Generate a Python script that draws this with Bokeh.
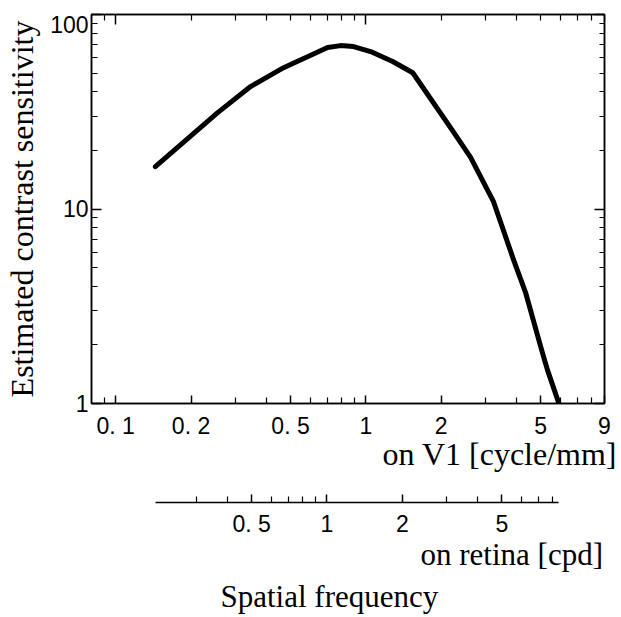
from bokeh.plotting import figure
from bokeh.models import LogAxis, FixedTicker, Range1d, LogScale, Title
from bokeh.embed import file_html
from bokeh.resources import INLINE

# ---- data ----
v1_freq = [0.144, 0.255, 0.346, 0.469, 0.703, 0.793, 0.893, 1.045, 1.28, 1.54,
           2.18, 2.62, 3.24, 3.90, 4.36, 5.09, 5.33, 5.90]
sensitivity = [16.5, 31.2, 42.6, 53.3, 67.6, 69.2, 68.4, 64.5, 57.3, 50.2,
               26.2, 18.5, 10.9, 5.46, 3.69, 1.81, 1.48, 1.01]

x_range_v1 = (0.08, 9.0)
y_range = (1.0, 100.0)
retina_per_v1 = 1.43  # cpd per cycle/mm

v1_major = [0.1, 0.2, 0.5, 1, 2, 5, 9]
v1_major_labels = ["0. 1", "0. 2", "0. 5", "1", "2", "5", "9"]
v1_minor = [0.09, 0.3, 0.4, 0.6, 0.7, 0.8, 0.9, 3, 4, 6, 7, 8]
top_major = [0.1, 1]
top_minor = [0.09, 0.2, 0.3, 0.4, 0.5, 0.6, 0.7, 0.8, 0.9, 2, 3, 4, 5, 6, 7, 8, 9]
retina_major = [0.5, 1, 2, 5]
retina_major_labels = ["0. 5", "1", "2", "5"]
retina_minor = [0.3, 0.4, 0.6, 0.7, 0.8, 0.9, 3, 4, 6, 7, 8]
y_major = [1, 10, 100]
y_major_labels = ["1", "10", "\n100"]
y_minor = [2, 3, 4, 5, 6, 7, 8, 9, 20, 30, 40, 50, 60, 70, 80, 90]

TICK_FONT = "Liberation Sans"
SERIF = "Liberation Serif"

p = figure(width=621, height=617, x_axis_type="log", y_axis_type="log",
           x_range=Range1d(*x_range_v1), y_range=Range1d(*y_range),
           output_backend="svg", toolbar_location=None,
           min_border_left=91, min_border_right=17, min_border_top=14,
           min_border_bottom=214)
p.title.visible = False
p.background_fill_color = "white"
p.border_fill_color = "white"
p.xgrid.visible = False
p.ygrid.visible = False
p.outline_line_color = "black"
p.outline_line_width = 1.5

p.extra_x_ranges = {"retina": Range1d(x_range_v1[0] * retina_per_v1,
                                      x_range_v1[1] * retina_per_v1)}
p.extra_x_scales = {"retina": LogScale()}

p.line(v1_freq, sensitivity, line_color="black", line_width=5,
       line_join="round", line_cap="round")


def style_axis(ax, font_size):
    ax.axis_line_color = "black"
    ax.axis_line_width = 1.5
    ax.major_tick_line_color = "black"
    ax.minor_tick_line_color = "black"
    ax.major_tick_line_width = 1.5
    ax.minor_tick_line_width = 1.2
    ax.major_tick_out = 0
    ax.minor_tick_out = 0
    ax.major_label_text_font = TICK_FONT
    ax.major_label_text_font_size = font_size
    ax.major_label_text_color = "black"


# main bottom axis (on V1)
xa = p.xaxis[0]
xa.ticker = FixedTicker(ticks=v1_major, minor_ticks=v1_minor)
xa.major_label_overrides = dict(zip(v1_major, v1_major_labels))
style_axis(xa, "23px")
xa.major_tick_in = 8
xa.minor_tick_in = 6
xa.major_label_standoff = 9

# left axis
ya = p.yaxis[0]
ya.ticker = FixedTicker(ticks=y_major, minor_ticks=y_minor)
ya.major_label_overrides = dict(zip(y_major, y_major_labels))
style_axis(ya, "23px")
ya.major_label_text_line_height = 0.45
ya.major_tick_in = 10
ya.minor_tick_in = 6
ya.major_label_standoff = 3
ya.axis_label = "Estimated contrast sensitivity"
ya.axis_label_text_font = SERIF
ya.axis_label_text_font_size = "32px"
ya.axis_label_text_font_style = "normal"
ya.axis_label_text_color = "black"
ya.axis_label_standoff = 7

# top axis (ticks only)
ta = LogAxis(ticker=FixedTicker(ticks=top_major, minor_ticks=top_minor))
style_axis(ta, "1px")
ta.major_label_text_alpha = 0
ta.major_tick_in = 10
ta.minor_tick_in = 6
ta.major_label_standoff = 0
p.add_layout(ta, "above")

# right axis (ticks only)
ra = LogAxis(ticker=FixedTicker(ticks=y_major, minor_ticks=y_minor))
style_axis(ra, "1px")
ra.major_label_text_alpha = 0
ra.major_tick_in = 10
ra.minor_tick_in = 5
ra.major_label_standoff = 0
p.add_layout(ra, "right")

# label under main axis
t_v1 = Title(text="on V1 [cycle/mm]", align="left", offset=291,
             text_font=SERIF, text_font_size="32px", text_font_style="normal",
             text_color="black", standoff=-16)
p.add_layout(t_v1, "below")

# blank gap between the two scales
gap = Title(text="\u00a0", align="left", offset=0,
            text_font=SERIF, text_font_size="34px", standoff=0)
p.add_layout(gap, "below")

# retina axis
rx = LogAxis(x_range_name="retina",
             ticker=FixedTicker(ticks=retina_major, minor_ticks=retina_minor),
             bounds=(min(v1_freq) * retina_per_v1, max(v1_freq) * retina_per_v1))
rx.major_label_overrides = dict(zip(retina_major, retina_major_labels))
style_axis(rx, "23px")
rx.major_tick_in = 8
rx.minor_tick_in = 6
rx.major_label_standoff = 8
p.add_layout(rx, "below")

t_ret = Title(text="on retina [cpd]", align="left", offset=329,
              text_font=SERIF, text_font_size="31px", text_font_style="normal",
              text_color="black", standoff=-10)
p.add_layout(t_ret, "below")

gap2 = Title(text="\u00a0", align="left", offset=0,
             text_font=SERIF, text_font_size="7px", standoff=0)
p.add_layout(gap2, "below")

t_sf = Title(text="Spatial frequency", align="left", offset=129,
             text_font=SERIF, text_font_size="31px", text_font_style="normal",
             text_color="black", standoff=0)
p.add_layout(t_sf, "below")

open("out.html", "w").write(file_html(p, INLINE))
